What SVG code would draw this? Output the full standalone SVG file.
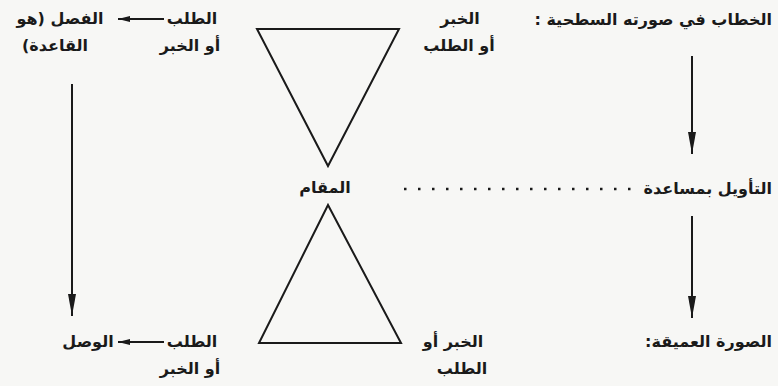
<svg xmlns="http://www.w3.org/2000/svg" width="778" height="386" viewBox="0 0 778 386">
<defs>
<marker id="ah" markerUnits="userSpaceOnUse" markerWidth="24" markerHeight="10" refX="22" refY="4" orient="auto">
<path d="M0,0 L22,4 L0,8 Z" fill="#1a1a1a"/>
</marker>
<marker id="ahs" markerUnits="userSpaceOnUse" markerWidth="14" markerHeight="8" refX="12" refY="3" orient="auto">
<path d="M0,0 L12,3 L0,6 Z" fill="#1a1a1a"/>
</marker>
</defs>
<style>
text{font-family:"DejaVu Sans","Noto Sans",sans-serif;font-size:16px;font-weight:bold;fill:#1a1a1a;text-anchor:middle;direction:rtl}
text.r{text-anchor:start}
.tri{fill:none;stroke:#1a1a1a;stroke-width:2}
.conn{stroke:#1a1a1a;stroke-width:2;fill:none}
</style>
<rect width="778" height="386" fill="#f7f7f5"/>
<g id="connectors">
<line class="conn" x1="72" y1="84" x2="72" y2="316" marker-end="url(#ah)"/>
<line class="conn" x1="692" y1="56" x2="692" y2="154" marker-end="url(#ah)"/>
<line class="conn" x1="692" y1="216" x2="692" y2="318" marker-end="url(#ah)"/>
<line class="conn" x1="164" y1="19" x2="118" y2="19" marker-end="url(#ahs)"/>
<line class="conn" x1="164" y1="342" x2="118" y2="342" marker-end="url(#ahs)"/>
<line x1="404" y1="189" x2="640" y2="189" stroke="#1a1a1a" stroke-width="2.5" stroke-dasharray="2.5 11.5"/>
</g>
<g id="triangle-top"><polygon class="tri" points="257,29 399,29 328,166"/></g>
<g id="triangle-bottom"><polygon class="tri" points="328,205 259,343 401,343"/></g>
<g id="surface"><text class="r" x="772" y="25">الخطاب في صورته السطحية :</text></g>
<g id="interpretation"><text class="r" x="772" y="194">التأويل بمساعدة</text></g>
<g id="deep"><text class="r" x="772" y="347">الصورة العميقة:</text></g>
<g id="maqam"><text x="325" y="193">المقام</text></g>
<g id="top-right-label"><text x="460" y="24">الخبر</text><text x="459" y="51">أو الطلب</text></g>
<g id="bottom-right-label"><text x="453" y="347">الخبر أو</text><text x="462" y="374">الطلب</text></g>
<g id="top-left-source"><text x="192" y="24">الطلب</text><text x="190" y="51">أو الخبر</text></g>
<g id="fasl"><text x="60" y="24">الفصل (هو</text><text x="55" y="51">القاعدة)</text></g>
<g id="bottom-left-source"><text x="192" y="347">الطلب</text><text x="190" y="374">أو الخبر</text></g>
<g id="wasl"><text x="88" y="347">الوصل</text></g>
</svg>
